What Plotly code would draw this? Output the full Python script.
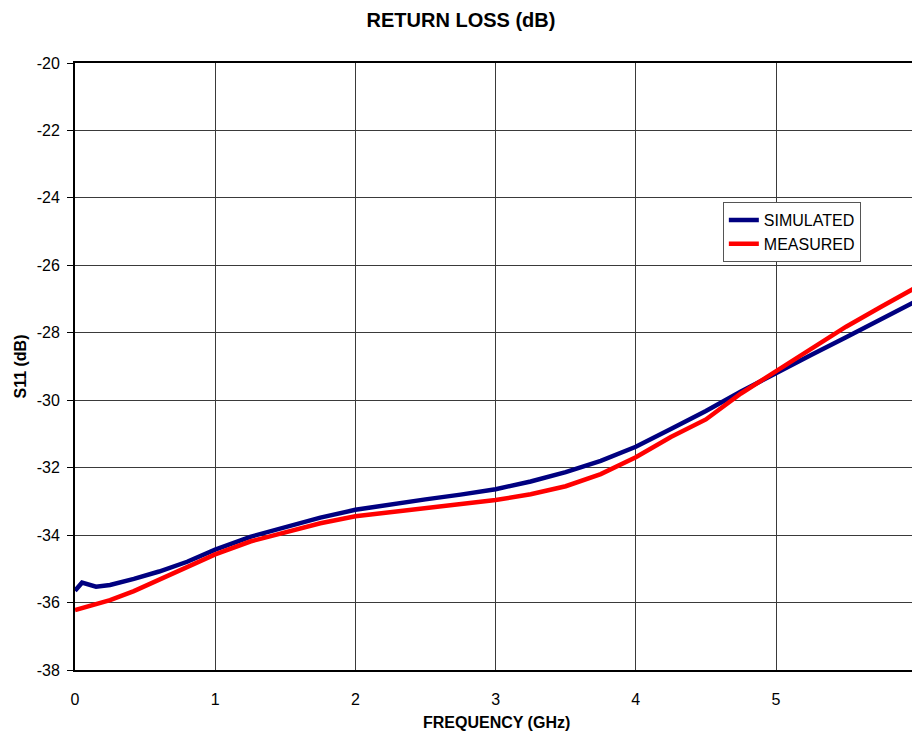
import plotly.graph_objects as go

freq_ghz = [0, 0.05, 0.15, 0.25, 0.42, 0.6, 0.8, 1.0, 1.25, 1.5, 1.75, 2.0, 2.25, 2.5,
            2.75, 3.0, 3.25, 3.5, 3.75, 4.0, 4.25, 4.5, 4.75, 5.0, 5.25, 5.5, 5.75, 6.0]

simulated_db = [-35.65, -35.41, -35.53, -35.48, -35.30, -35.08, -34.79, -34.43, -34.05,
                -33.75, -33.48, -33.25, -33.08, -32.94, -32.80, -32.64, -32.41, -32.13,
                -31.80, -31.38, -30.85, -30.32, -29.74, -29.19, -28.66, -28.13, -27.60, -27.06]

measured_db = [-36.22, -36.16, -36.05, -35.93, -35.66, -35.33, -34.94, -34.57, -34.19,
               -33.92, -33.65, -33.44, -33.32, -33.18, -33.08, -32.96, -32.79, -32.55,
               -32.19, -31.69, -31.09, -30.57, -29.80, -29.15, -28.49, -27.82, -27.23, -26.65]

x_ticks = [0, 1, 2, 3, 4, 5]
y_ticks = [-20, -22, -24, -26, -28, -30, -32, -34, -36, -38]

FONT = "Liberation Sans, Arial, sans-serif"

fig = go.Figure()
fig.add_trace(go.Scatter(x=freq_ghz, y=simulated_db, mode="lines", name="SIMULATED",
                         line=dict(color="#000080", width=4.5)))
fig.add_trace(go.Scatter(x=freq_ghz, y=measured_db, mode="lines", name="MEASURED",
                         line=dict(color="#FF0000", width=4.5)))

fig.update_layout(
    width=912, height=732,
    margin=dict(l=75, r=0, t=63, b=62),
    paper_bgcolor="white", plot_bgcolor="white",
    font=dict(family=FONT, size=16, color="black"),
    title=dict(text="<b>RETURN LOSS (dB)</b>", x=0.5055, xref="container",
               y=0.9727, yref="container", xanchor="center", yanchor="middle",
               font=dict(family=FONT, size=20, color="black")),
    showlegend=True,
    legend=dict(x=0.774, y=0.771, xanchor="left", yanchor="top",
                bgcolor="white", bordercolor="#555555", borderwidth=1,
                font=dict(family=FONT, size=16, color="black"),
                itemwidth=30, tracegroupgap=0),
    xaxis=dict(range=[0, 5.97], tickvals=x_ticks, ticktext=[str(v) for v in x_ticks],
               showgrid=True, gridcolor="#3a3a3a", gridwidth=1,
               showline=True, linecolor="black", linewidth=2, mirror=True,
               ticks="", ticklabelstandoff=14, zeroline=False,
               tickfont=dict(family=FONT, size=16, color="black")),
    yaxis=dict(range=[-38, -20], tickvals=y_ticks, ticktext=[str(v) for v in y_ticks],
               showgrid=True, gridcolor="#3a3a3a", gridwidth=1,
               showline=True, linecolor="black", linewidth=2, mirror=False,
               ticks="outside", ticklen=6, tickcolor="black", tickwidth=1,
               ticklabelstandoff=4, zeroline=False,
               tickfont=dict(family=FONT, size=16, color="black")),
    annotations=[
        dict(text="<b>S11 (dB)</b>", xref="paper", yref="paper", x=-0.0657, y=0.5,
             textangle=-90, showarrow=False, xanchor="center", yanchor="middle",
             font=dict(family=FONT, size=16, color="black")),
        dict(text="<b>FREQUENCY (GHz)</b>", xref="paper", yref="paper", x=0.503, y=-0.0873,
             showarrow=False, xanchor="center", yanchor="middle",
             font=dict(family=FONT, size=16, color="black")),
    ],
)

fig.write_html(
    "out.html",
    config={"displayModeBar": False},
    post_script="document.body.style.margin='0';document.body.style.overflow='hidden';",
)
